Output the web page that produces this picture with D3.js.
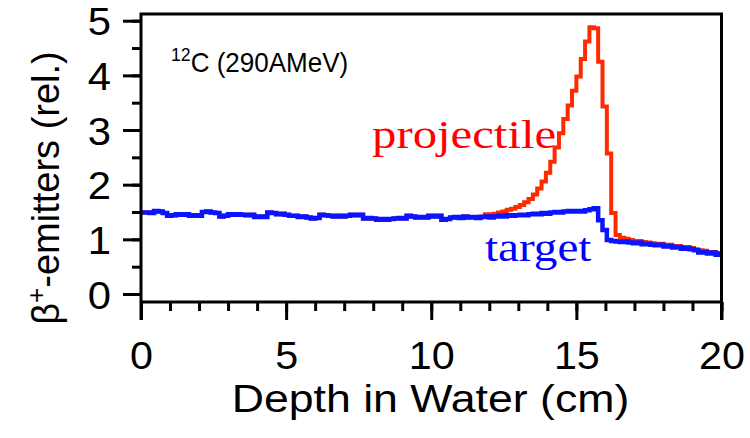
<!DOCTYPE html>
<html>
<head>
<meta charset="utf-8">
<script src="https://cdn.jsdelivr.net/npm/d3@7"></script>
<style>
  body { margin: 0; background: #fff; }
  svg { display: block; }
</style>
</head>
<body>
<svg id="chart" width="750" height="438"></svg>
<script>
// Histogram bin width along the depth axis (cm)
const binWidth = 0.15;

// beta+ emitter activity from target fragments (relative units)
const target = [
  1.49,1.49,1.48,1.52,1.51,1.48,1.43,1.44,1.46,1.45,
  1.46,1.43,1.44,1.43,1.50,1.51,1.49,1.48,1.42,1.43,
  1.46,1.45,1.46,1.45,1.44,1.45,1.41,1.42,1.41,1.49,
  1.48,1.46,1.47,1.45,1.43,1.43,1.41,1.42,1.40,1.38,
  1.39,1.45,1.44,1.43,1.42,1.43,1.42,1.43,1.45,1.44,
  1.45,1.38,1.39,1.38,1.36,1.37,1.36,1.37,1.38,1.39,
  1.38,1.43,1.42,1.40,1.41,1.40,1.43,1.42,1.43,1.36,
  1.37,1.40,1.41,1.39,1.42,1.40,1.41,1.39,1.41,1.42,
  1.40,1.42,1.43,1.42,1.44,1.43,1.44,1.45,1.44,1.46,
  1.47,1.46,1.48,1.47,1.49,1.50,1.49,1.51,1.52,1.51,
  1.52,1.51,1.53,1.55,1.57,1.35,1.17,0.99,0.97,0.96,
  0.95,0.96,0.94,0.93,0.94,0.91,0.92,0.90,0.89,0.90,
  0.87,0.88,0.85,0.86,0.83,0.84,0.82,0.80,0.76,0.77,
  0.74,0.76,0.72,0.73
];

// beta+ emitter activity from projectile fragments (relative units)
const projectile = [
  1.49,1.49,1.48,1.52,1.51,1.48,1.43,1.44,1.46,1.45,
  1.46,1.43,1.44,1.43,1.50,1.51,1.49,1.48,1.42,1.43,
  1.46,1.45,1.46,1.45,1.44,1.45,1.41,1.42,1.41,1.49,
  1.48,1.46,1.47,1.45,1.43,1.43,1.41,1.42,1.40,1.38,
  1.39,1.45,1.44,1.43,1.42,1.43,1.42,1.43,1.45,1.44,
  1.45,1.38,1.39,1.38,1.36,1.37,1.36,1.37,1.38,1.39,
  1.38,1.43,1.42,1.40,1.41,1.40,1.43,1.42,1.43,1.36,
  1.37,1.40,1.41,1.39,1.42,1.40,1.41,1.39,1.42,1.46,
  1.46,1.47,1.49,1.51,1.54,1.56,1.59,1.63,1.68,1.74,
  1.82,1.93,2.06,2.22,2.42,2.68,2.94,3.20,3.45,3.72,
  3.98,4.30,4.62,4.88,4.86,4.25,3.43,2.57,1.48,1.08,
  1.03,1.01,0.99,0.97,0.97,0.95,0.94,0.93,0.92,0.92,
  0.90,0.90,0.88,0.88,0.86,0.86,0.84,0.82,0.80,0.79,
  0.77,0.77,0.75,0.74
];

const xMajorTicks = [0, 5, 10, 15, 20];
const xMinorTicks = d3.range(0, 21, 1);
const yMajorTicks = [0, 1, 2, 3, 4, 5];
const yMinorTicks = d3.range(0, 5.01, 0.5);

const svg = d3.select("#chart");
const frame = { left: 141, right: 721.5, top: 14, bottom: 302 };

const x = d3.scaleLinear().domain([0, 20]).range([frame.left, frame.right]);
const y = d3.scaleLinear().domain([0, 5]).range([294, 20.7]);

const sansFont = "'Liberation Sans', Arial, Helvetica, sans-serif";
const serifFont = "'Liberation Serif', 'Times New Roman', serif";

// widen glyphs horizontally around each text's own anchor point
function widen(selection, sx) {
  selection.each(function () {
    const t = d3.select(this);
    const tx = +t.attr("x") || 0;
    const ty = +t.attr("y") || 0;
    t.attr("x", 0).attr("y", 0)
      .attr("transform", `translate(${tx},${ty}) scale(${sx},1)`);
  });
}

// clip the step lines to the plotting frame
svg.append("defs").append("clipPath").attr("id", "plot-clip")
  .append("rect")
  .attr("x", frame.left).attr("y", frame.top)
  .attr("width", frame.right - frame.left)
  .attr("height", frame.bottom - frame.top);

function stepPoints(values) {
  const pts = values.map((v, i) => [i * binWidth, v]);
  pts.push([values.length * binWidth, values[values.length - 1]]);
  return pts;
}

const stepLine = d3.line()
  .x(d => x(d[0]))
  .y(d => y(d[1]))
  .curve(d3.curveStepAfter);

const lines = svg.append("g").attr("clip-path", "url(#plot-clip)");
lines.append("path")
  .attr("d", stepLine(stepPoints(projectile)))
  .attr("fill", "none")
  .attr("stroke", "#ff2a00")
  .attr("stroke-width", 4)
  .attr("stroke-linejoin", "miter");
lines.append("path")
  .attr("d", stepLine(stepPoints(target)))
  .attr("fill", "none")
  .attr("stroke", "#0a14ff")
  .attr("stroke-width", 4.5)
  .attr("stroke-linejoin", "miter");

// axes
function styleAxis(g) {
  g.select(".domain").remove();
  g.selectAll(".tick line").attr("stroke", "#000").attr("stroke-width", 3);
  g.selectAll("text").attr("fill", "#000");
}

// y axis: minor + major ticks pointing outward
svg.append("g")
  .attr("transform", `translate(${frame.left},0)`)
  .call(d3.axisLeft(y).tickValues(yMinorTicks).tickSize(9).tickFormat(""))
  .call(styleAxis);
svg.append("g")
  .attr("transform", `translate(${frame.left},0)`)
  .call(d3.axisLeft(y).tickValues(yMajorTicks).tickSize(18).tickPadding(12).tickFormat(d3.format("d")))
  .call(styleAxis)
  .call(g => g.selectAll("text")
    .attr("font-family", sansFont)
    .attr("font-size", 38)
    .attr("dy", "0.37em")
    .attr("x", -30)
    .call(widen, 1.1));

// x axis: minor + major ticks pointing downward
svg.append("g")
  .attr("transform", `translate(0,${frame.bottom})`)
  .call(d3.axisBottom(x).tickValues(xMajorTicks).tickSize(18).tickPadding(0).tickFormat(d3.format("d")))
  .call(styleAxis)
  .call(g => g.selectAll("text")
    .attr("font-family", sansFont)
    .attr("font-size", 39)
    .attr("dy", null)
    .attr("y", 67)
    .call(widen, 1.06));
svg.append("g")
  .attr("transform", `translate(0,${frame.bottom})`)
  .call(d3.axisBottom(x).tickValues(xMinorTicks).tickSize(9).tickFormat(""))
  .call(styleAxis);

// frame
svg.append("path")
  .attr("d", `M${frame.left},${frame.bottom + 18}V${frame.top}H${frame.right}V${frame.bottom + 18}`)
  .attr("fill", "none").attr("stroke", "#000").attr("stroke-width", 3);
svg.append("line")
  .attr("x1", frame.left).attr("x2", frame.right)
  .attr("y1", frame.bottom).attr("y2", frame.bottom)
  .attr("stroke", "#000").attr("stroke-width", 3);

// axis titles
svg.append("text")
  .attr("x", 430.5)
  .attr("y", 412)
  .attr("text-anchor", "middle")
  .attr("font-family", sansFont)
  .attr("font-size", 38)
  .text("Depth in Water (cm)")
  .call(widen, 1.175);

const yTitle = svg.append("text")
  .attr("transform", "translate(59,188) rotate(-90)")
  .attr("text-anchor", "middle")
  .attr("font-family", sansFont)
  .attr("font-size", 38);
yTitle.append("tspan").text("β");
yTitle.append("tspan").attr("font-size", 26).attr("dy", -14).text("+");
yTitle.append("tspan").attr("dy", 14).text("-emitters (rel.)");

// beam annotation
const beam = svg.append("text")
  .attr("x", 171).attr("y", 72)
  .attr("font-family", sansFont)
  .attr("font-size", 28)
  .call(widen, 0.93);
beam.append("tspan").attr("font-size", 19).attr("dy", -11).text("12");
beam.append("tspan").attr("dy", 11).text("C (290AMeV)");

// series labels
svg.append("text")
  .attr("x", 372).attr("y", 148)
  .attr("font-family", serifFont)
  .attr("font-size", 41)
  .attr("fill", "#ff0000")
  .text("projectile")
  .call(widen, 1.19);
svg.append("text")
  .attr("x", 485).attr("y", 261)
  .attr("font-family", serifFont)
  .attr("font-size", 41)
  .attr("fill", "#0000ff")
  .text("target")
  .call(widen, 1.15);
</script>
</body>
</html>
